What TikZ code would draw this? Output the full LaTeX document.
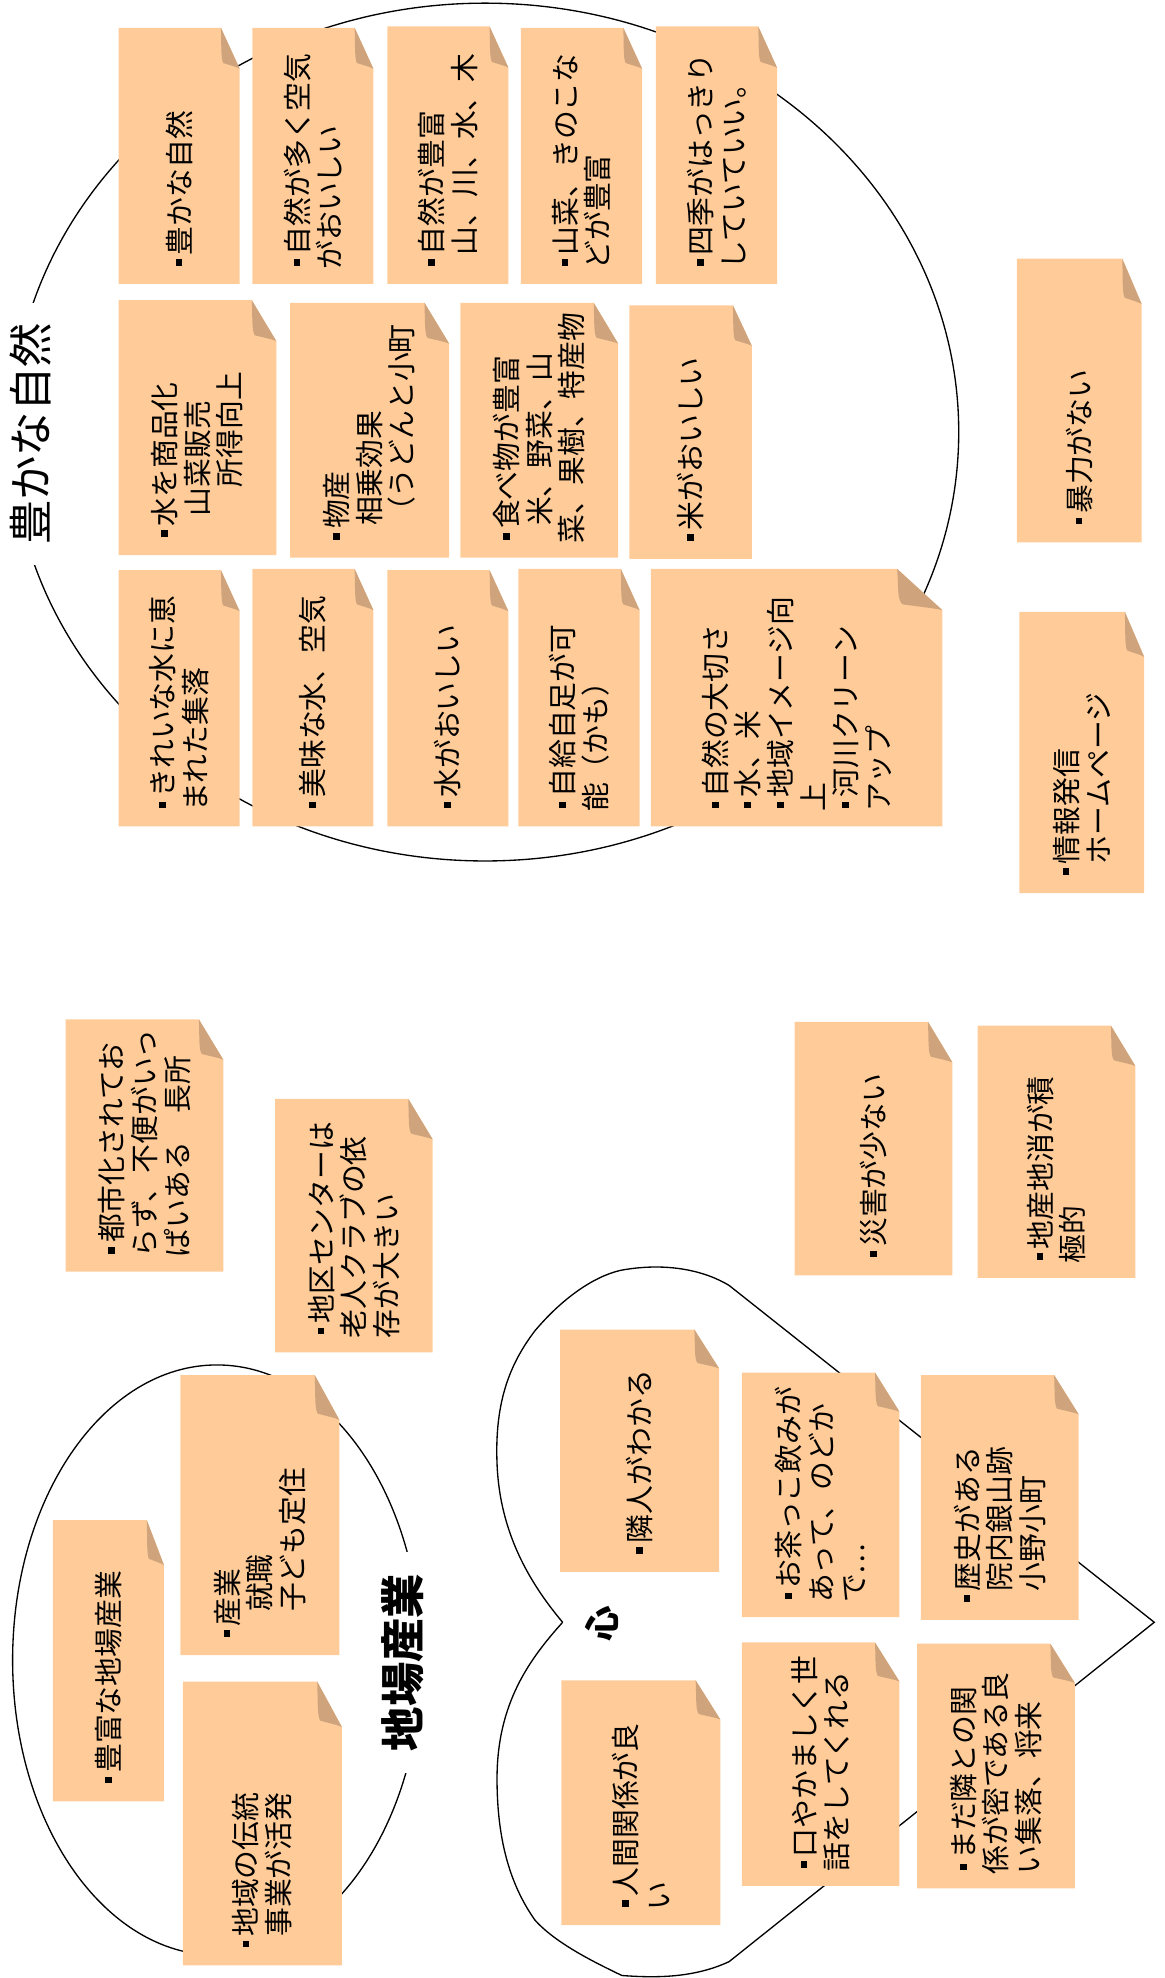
\documentclass[tikz,border=0pt]{standalone}
\usepackage{fontspec}
\setmainfont{Noto Sans CJK JP}
\usetikzlibrary{calc}
\definecolor{notepeach}{HTML}{FFCC99}
\definecolor{notefold}{HTML}{CFA47D}
\newcommand{\gunit}{0.2mm}
\newcommand{\notepad}{11}
\newcommand{\sqdot}{\hspace*{.13em}\rule[.27em]{.23em}{.23em}\hspace*{.14em}}
\newcommand{\stickynote}[6]{%
  \pgfmathsetmacro{\fw}{(#4-#2)*0.155}
  \pgfmathsetmacro{\fh}{(#5-#3)*0.16}
  \fill[notepeach] (#2,#3) -- ({#4-\fw},#3) -- (#4,{#3+\fh}) -- (#4,#5) -- (#2,#5) -- cycle;
  \fill[notefold] ({#4-\fw},#3) .. controls ({#4-0.97*\fw},{#3+0.5*\fh}) and ({#4-\fw},{#3+0.75*\fh}) .. ({#4-0.88*\fw},{#3+0.86*\fh})
    .. controls ({#4-0.5*\fw},{#3+0.92*\fh}) and ({#4-0.2*\fw},{#3+0.95*\fh}) .. (#4,{#3+\fh}) -- cycle;
  \node[notetext, anchor=west, rotate=90] (#1) at ({(#2+#4)/2},{#5-\notepad}) {#6};
}

\begin{document}
\begin{tikzpicture}[x=\gunit, y=-\gunit]
        \tikzset{notetext/.style={inner sep=0pt, align=left, font=\fontsize{13}{14.7}\selectfont},
                 title/.style={fill=white, rotate=90, inner xsep=9pt, inner ysep=2pt, font=\fontsize{20}{24}\selectfont},
                 outline/.style={line width=0.6pt}}
        \useasboundingbox (0,0) rectangle (923,1568);

        \draw[outline] (384.5,342.5) ellipse [x radius=375.5, y radius=340];
        \draw[outline] (172,1316) ellipse [x radius=162, y radius=234];
        \draw[outline] (446,1286) .. controls (420,1255) and (396,1215) .. (394,1160)
            .. controls (392,1110) and (405,1080) .. (424,1055)
            .. controls (445,1030) and (470,1012) .. (492,1007)
            .. controls (530,1000) and (560,1008) .. (578,1019)
            -- (915,1286) -- (578,1555)
            .. controls (550,1568) and (520,1568) .. (493,1566)
            .. controls (470,1555) and (440,1540) .. (424,1522)
            .. controls (405,1495) and (394,1460) .. (394,1410)
            .. controls (394,1350) and (420,1315) .. (446,1286);

        \node[title] (shizen) at (24,344) {豊かな自然};
        \node[title, inner xsep=10pt, font=\fontsize{20}{24}\selectfont\bfseries] (jiba) at (319,1318) {地場産業};
        \node[inner sep=0pt, rotate=90, font=\fontsize{16}{18}\selectfont\bfseries] (kokoro) at (477,1287) {心};

        \stickynote{n1}{94}{22}{190}{225}{\sqdot 豊かな自然}
        \stickynote{n2}{200}{22}{296}{225}{\sqdot 自然が多く空気\\がおいしい}
        \stickynote{n3}{307}{21}{403}{225}{\sqdot 自然が豊富\\\hspace*{.5em}山、川、水、木}
        \stickynote{n4}{413}{22}{509}{225}{\sqdot 山菜、きのこな\\どが豊富}
        \stickynote{n5}{520}{21}{616}{225}{\sqdot 四季がはっきり\\していていい。}

        \stickynote{n6}{94}{238}{219}{440}{\sqdot 水を商品化\\\hspace*{.85em}山菜販売\\\hspace*{1.85em}所得向上}
        \stickynote{n7}{230}{240}{356}{442}{\sqdot 物産\\\hspace*{.6em}相乗効果\\\hspace*{.6em}（うどんと小町}
        \stickynote{n8}{365}{240}{490}{442}{\sqdot 食べ物が豊富\\\hspace*{.6em}米、野菜、山\\菜、果樹、特産物}
        \stickynote{n9}{499}{242}{596}{443}{\sqdot 米がおいしい}

        \stickynote{n10}{94}{452}{190}{655}{\sqdot きれいな水に恵\\まれた集落}
        \stickynote{n11}{200}{451}{296}{655}{\sqdot 美味な水、空気}
        \stickynote{n12}{307}{452}{403}{655}{\sqdot 水がおいしい}
        \stickynote{n13}{411}{451}{507}{655}{\sqdot 自給自足が可\\能（かも）}
        \stickynote{n14}{516}{451}{747}{655}{\sqdot 自然の大切さ\\\sqdot 水、米\\\sqdot 地域イメージ向\\上\\\sqdot 河川クリーン\\アップ}

        \stickynote{n15}{806}{205}{905}{430}{\sqdot 暴力がない}
        \stickynote{n16}{808}{485}{907}{708}{\sqdot 情報発信\\\hspace*{.5em}ホームページ}

        \stickynote{n17}{52}{808}{177}{1008}{\sqdot 都市化されてお\\らず、不便がいっ\\ぱいある　長所}
        \stickynote{n18}{218}{871}{343}{1072}{\sqdot 地区センターは\\老人クラブの依\\存が大きい}
        \stickynote{n19}{630}{810}{755}{1011}{\sqdot 災害が少ない}
        \stickynote{n20}{775}{813}{900}{1013}{\sqdot 地産地消が積\\極的}

        \stickynote{n21}{143}{1090}{269}{1312}{\sqdot 産業\\　就職\\　子ども定住}
        \stickynote{n22}{42}{1205}{130}{1428}{\sqdot 豊富な地場産業}
        \stickynote{n23}{145}{1333}{271}{1558}{\sqdot 地域の伝統\\\hspace*{.5em}事業が活発}

        \stickynote{n24}{444}{1054}{570}{1246}{\sqdot 隣人がわかる}
        \stickynote{n25}{588}{1088}{713}{1282}{\sqdot お茶っこ飲みが\\あって、のどか\\で…}
        \stickynote{n26}{730}{1090}{855}{1284}{\sqdot 歴史がある\\\hspace*{.5em}院内銀山跡\\\hspace*{.5em}小野小町}
        \stickynote{n27}{445}{1332}{571}{1526}{\sqdot 人間関係が良\\い}
        \stickynote{n28}{588}{1302}{713}{1495}{\sqdot 口やかましく世\\話をしてくれる}
        \stickynote{n29}{727}{1303}{852}{1497}{\sqdot まだ隣との関\\係が密である良\\い集落、将来}
\end{tikzpicture}
\end{document}
